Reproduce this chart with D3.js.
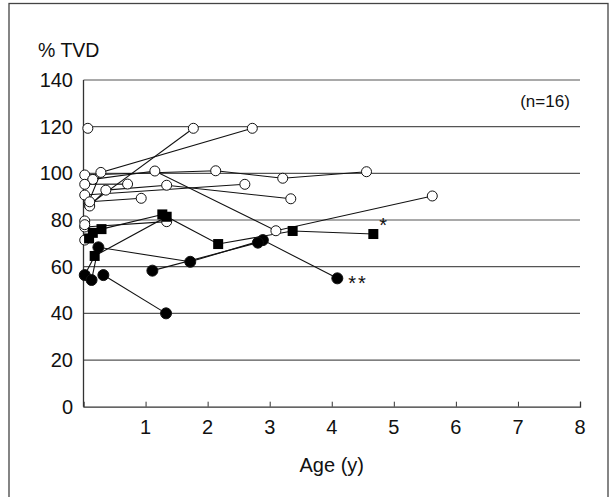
<!DOCTYPE html>
<html>
<head>
<meta charset="utf-8">
<script src="https://cdn.jsdelivr.net/npm/d3@7"></script>
<style>
body { margin: 0; background: #fff; }
text { font-family: "Liberation Sans", Arial, sans-serif; fill: #111; }
</style>
</head>
<body>
<svg></svg>
<script>
// each point: [age (y), %TVD, marker]  o = open circle, s = square, f = filled circle
var patient1 = [[0.07, 119.3, "o"]];
var patient2 = [[0.08, 87.5, "o"], [0.28, 100.4, "o"], [2.72, 119.3, "o"]];
var patient3 = [[0.09, 86.5, "o"], [1.77, 119.3, "o"]];
var patient4 = [[0.02, 99.3, "o"], [2.13, 101.1, "o"], [3.21, 97.9, "o"], [4.56, 100.7, "o"]];
var patient5 = [[0.15, 97.4, "o"], [1.15, 101.0, "o"], [3.10, 75.4, "o"], [5.62, 90.3, "o"]];
var patient6 = [[0.02, 95.3, "o"], [0.71, 95.4, "o"]];
var patient7 = [[0.10, 86.0, "o"], [0.36, 92.8, "o"], [1.34, 94.9, "o"], [3.34, 89.1, "o"]];
var patient8 = [[0.02, 90.7, "o"], [2.60, 95.3, "o"]];
var patient9 = [[0.10, 87.8, "o"], [0.93, 89.3, "o"]];
var patient10 = [[0.02, 77.0, "o"], [1.34, 79.3, "o"]];
var patient11 = [[0.02, 71.4, "o"], [0.09, 72.1, "s"], [0.15, 74.5, "s"], [0.29, 76.1, "s"], [1.27, 82.4, "s"]];
var patient12 = [[0.02, 56.4, "f"], [0.18, 64.6, "s"], [1.34, 81.4, "s"], [2.17, 69.7, "s"], [3.37, 75.3, "s"], [4.67, 74.0, "s"]];
var patient13 = [[0.13, 54.3, "f"], [0.24, 68.3, "f"], [1.72, 62.1, "f"], [2.89, 71.4, "f"], [4.09, 55.0, "f"]];
var patient14 = [[0.32, 56.4, "f"], [1.33, 40.0, "f"]];
var patient15 = [[1.11, 58.3, "f"], [2.81, 70.3, "f"]];
var patient16 = [[0.02, 79.6, "o"], [0.02, 78.0, "o"]];

var patients = [patient1, patient2, patient3, patient4, patient5, patient6, patient7, patient8,
                patient9, patient10, patient11, patient12, patient13, patient14, patient15, patient16];

var yTicks = [0, 20, 40, 60, 80, 100, 120, 140];
var xTicks = [1, 2, 3, 4, 5, 6, 7, 8];

// notes: [age, %TVD, text]
var notes = [[4.67, 74.0, "*"], [4.09, 55.0, "**"]];

var width = 611;
var height = 497;
var svg = d3.select("svg")
            .attr("width", width)
            .attr("height", height);

var xScale = d3.scaleLinear()
               .domain([0, 8])
               .range([83.5, 580]);

var yScale = d3.scaleLinear()
               .domain([0, 140])
               .range([406.7, 80]);

// outer frame
svg.append("rect")
  .attr("x", 9)
  .attr("y", 3.5)
  .attr("width", 599)
  .attr("height", 520)
  .attr("fill", "none")
  .attr("stroke", "#444")
  .attr("stroke-width", 1.3);

// gridlines
svg.selectAll(".grid")
  .data(yTicks.slice(1))
  .enter()
  .append("line")
  .attr("x1", xScale(0))
  .attr("x2", xScale(8))
  .attr("y1", function(d) { return yScale(d); })
  .attr("y2", function(d) { return yScale(d); })
  .attr("stroke", "#555")
  .attr("stroke-width", 1.2);

// x axis with inward ticks
var xAxis = d3.axisTop(xScale)
              .tickValues(xTicks)
              .tickSize(5)
              .tickFormat("");
svg.append("g")
  .attr("transform", "translate(0," + yScale(0) + ")")
  .call(xAxis)
  .call(function(g) {
    g.select(".domain").attr("stroke", "#333").attr("stroke-width", 1.3);
    g.selectAll(".tick line").attr("stroke", "#333");
  });

svg.selectAll(".xlab")
  .data(xTicks)
  .enter()
  .append("text")
  .attr("x", function(d) { return xScale(d); })
  .attr("y", 434)
  .attr("text-anchor", "middle")
  .attr("font-size", 20)
  .text(function(d) { return d; });

// y axis line
svg.append("line")
  .attr("x1", xScale(0))
  .attr("x2", xScale(0))
  .attr("y1", yScale(0))
  .attr("y2", yScale(140))
  .attr("stroke", "#333")
  .attr("stroke-width", 1.3);

svg.selectAll(".ylab")
  .data(yTicks)
  .enter()
  .append("text")
  .attr("x", 73)
  .attr("y", function(d) { return yScale(d) + 7; })
  .attr("text-anchor", "end")
  .attr("font-size", 20)
  .text(function(d) { return d; });

svg.append("text")
  .attr("x", 38)
  .attr("y", 57)
  .attr("font-size", 19.5)
  .text("% TVD");

svg.append("text")
  .attr("x", xScale(4))
  .attr("y", 472)
  .attr("text-anchor", "middle")
  .attr("font-size", 20)
  .text("Age (y)");

svg.append("text")
  .attr("x", 545)
  .attr("y", 107)
  .attr("text-anchor", "middle")
  .attr("font-size", 17)
  .text("(n=16)");

// patient lines
var line = d3.line()
             .x(function(d) { return xScale(d[0]); })
             .y(function(d) { return yScale(d[1]); });

svg.selectAll(".patient")
  .data(patients)
  .enter()
  .append("path")
  .attr("d", line)
  .attr("fill", "none")
  .attr("stroke", "#111")
  .attr("stroke-width", 1.1);

var points = [];
patients.forEach(function(p) { p.forEach(function(d) { points.push(d); }); });

svg.selectAll(".circ")
  .data(points.filter(function(d) { return d[2] !== "s"; }))
  .enter()
  .append("circle")
  .attr("cx", function(d) { return xScale(d[0]); })
  .attr("cy", function(d) { return yScale(d[1]); })
  .attr("r", function(d) { return d[2] === "f" ? 5.5 : 5; })
  .attr("fill", function(d) { return d[2] === "f" ? "#000" : "#fff"; })
  .attr("stroke", "#111")
  .attr("stroke-width", 1);

svg.selectAll(".sq")
  .data(points.filter(function(d) { return d[2] === "s"; }))
  .enter()
  .append("rect")
  .attr("x", function(d) { return xScale(d[0]) - 5; })
  .attr("y", function(d) { return yScale(d[1]) - 5; })
  .attr("width", 10)
  .attr("height", 10)
  .attr("fill", "#000");

svg.selectAll(".note")
  .data(notes)
  .enter()
  .append("text")
  .attr("x", function(d) { return xScale(d[0]) + (d[2] === "*" ? 6 : 11); })
  .attr("y", function(d) { return yScale(d[1]) + (d[2] === "*" ? -2 : 12); })
  .attr("font-size", 20)
  .attr("letter-spacing", function(d) { return d[2] === "**" ? 2 : 0; })
  .text(function(d) { return d[2]; });
</script>
</body>
</html>
